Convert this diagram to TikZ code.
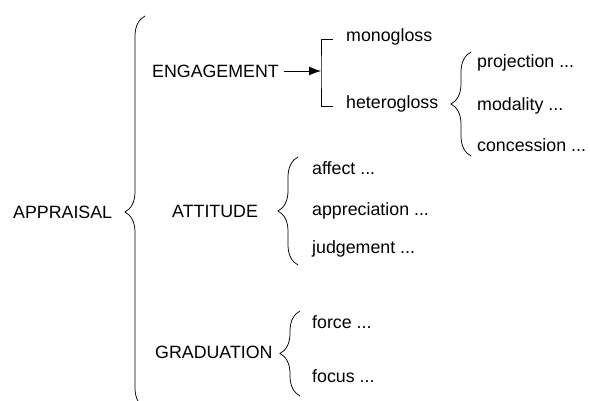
\documentclass[tikz,border=0pt]{standalone}
\usepackage{fontspec}
\setmainfont{Liberation Sans}
\usetikzlibrary{positioning,decorations.pathreplacing,arrows.meta}

\begin{document}
\begin{tikzpicture}[x=1pt, y=-1pt, font=\fontsize{17.8}{20}\selectfont,
    capnode/.style={anchor=west, inner sep=0pt},
    leafnode/.style={anchor=mid west, inner sep=0pt},
    curly/.style={decorate, decoration={brace, amplitude=20pt}, line width=0.75pt},
    fork/.style={line width=0.75pt}]
    \useasboundingbox (0,0) rectangle (590,400);

    \node[capnode] (appr) at (13,212)  {APPRAISAL};
    \node[capnode] (eng)  at (152,71)  {ENGAGEMENT};
    \node[capnode] (att)  at (172,211) {ATTITUDE};
    \node[capnode] (grad) at (155,352) {GRADUATION};

    \node[leafnode] (mono) at (346,39)  {monogloss};
    \node[leafnode] (het)  at (346,106) {heterogloss};
    \node[leafnode] (proj) at (477,65)  {projection ...};
    \node[leafnode] (moda) at (477,108) {modality ...};
    \node[leafnode] (conc) at (477,149) {concession ...};

    \node[leafnode] (aff)  at (312,172) {affect ...};
    \node[leafnode] (appr2) at (312,213) {appreciation ...};
    \node[leafnode] (judg) at (312,251) {judgement ...};

    \node[leafnode] (forc) at (312,326) {force ...};
    \node[leafnode] (focu) at (312,380) {focus ...};

    % engagement system
    \coordinate (split) at (321,71);
    \draw[fork, -{Latex[length=12pt,width=9pt]}] ([xshift=5pt]eng.east) -- (split);
    \draw[fork] ([xshift=-13pt]mono.mid west) -| (split) |- ([xshift=-13pt]het.mid west);

    % braces
    \draw[curly] (145,408) -- (145,16);
    \draw[curly] (471,156) -- (471,52);
    \draw[curly] (298,265) -- (298,157);
    \draw[curly] (300,396) -- (300,311);
\end{tikzpicture}
\end{document}
